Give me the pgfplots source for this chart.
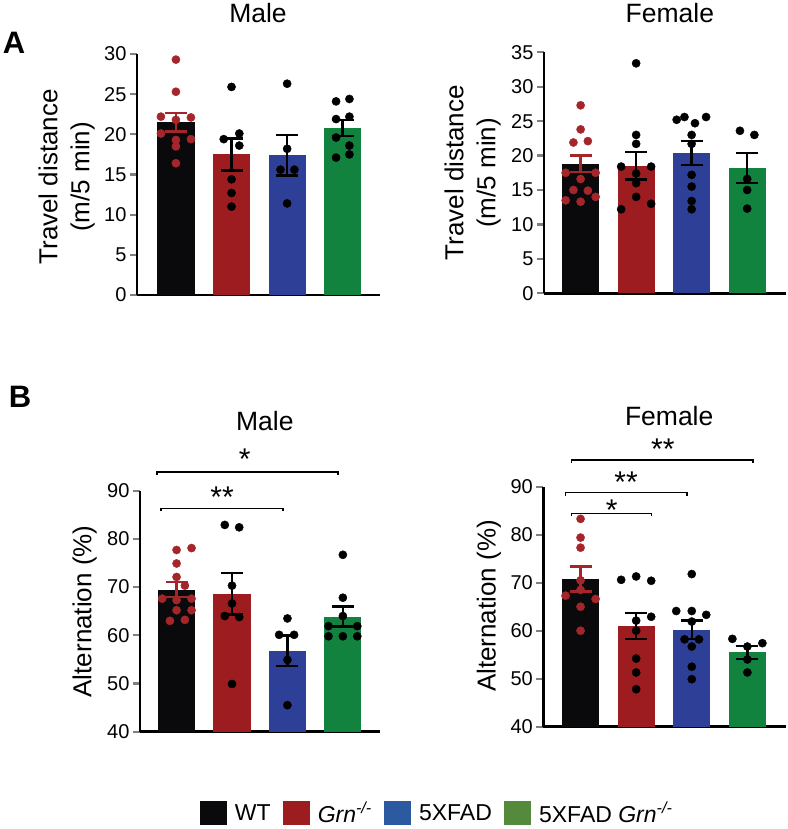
\documentclass[border=0pt]{standalone}
\usepackage{fontspec}
\setmainfont{Liberation Sans}
\usepackage{pgfplots}
\pgfplotsset{compat=1.18}

\definecolor{wtc}{HTML}{0A0A0C}
\definecolor{grnc}{HTML}{9C1C20}
\definecolor{fadc}{HTML}{2D3F97}
\definecolor{fgc}{HTML}{12833F}
\definecolor{dotred}{HTML}{A5262A}
\definecolor{legblue}{HTML}{2C5AA0}
\definecolor{leggreen}{HTML}{558A3C}

\pgfplotsset{
  panel/.style={
    scale only axis, anchor=south west,
    axis x line*=bottom, axis y line*=left,
    axis line style={line width=2.5pt},
    xtick=\empty,
    tick align=outside, major tick length=7pt,
    ytick style={line width=2.2pt},
    /pgf/number format/assume math mode=true,
    yticklabel style={font=\fontsize{20}{22}\selectfont},
    every axis title shift=0pt,
    title style={font=\fontsize{26.5}{30}\selectfont, anchor=center},
    ylabel style={font=\fontsize{26}{32}\selectfont, align=center, anchor=center},
    clip=false,
  },
  mbar/.style 2 args={ybar, bar width=0.67, bar shift=0pt, draw=none, fill=#1,
    /pgfplots/error bars/y dir=both, /pgfplots/error bars/y explicit,
    /pgfplots/error bars/error bar style={draw=#2, line width=2.5pt},
    /pgfplots/error bars/error mark options={rotate=90, draw=#2, line width=2.5pt, mark size=11pt}},
  dots/.style={only marks, mark=*, mark size=4.1pt, color=#1},
  legsq/.style={legend image code/.code={%
    \fill[#1] (0pt,-11.5pt) rectangle (26pt,11.5pt);
    \path[draw=none, fill=none] (0pt,-11.5pt) rectangle (33pt,11.5pt);}},
}
\tikzset{
  brk/.style={line width=1.5pt},
  star/.style={font=\fontsize{30}{30}\selectfont, anchor=base, inner sep=0pt},
}

\begin{document}
\begin{tikzpicture}
\path[use as bounding box] (0pt,0pt) rectangle (787pt,829pt);

\node[font=\fontsize{31}{31}\selectfont\bfseries] at (14pt,786.5pt) {A};
\node[font=\fontsize{31}{31}\selectfont\bfseries] at (20pt,432pt) {B};

% ---------- A, male ----------
\begin{axis}[panel, at={(137pt,534pt)}, width=243pt, height=241pt,
  xmin=-0.70, xmax=3.67, ymin=0, ymax=30, ytick={0,5,...,30},
  title=Male, title style={at={(axis description cs:0.498,1.172)}},
  ylabel={Travel distance\\(m/5 min)},
  ylabel style={at={(axis description cs:-0.29,0.49)}}]
\addplot[mbar={wtc}{dotred}] coordinates {(0,21.5) +- (0,1.15)};
\addplot[mbar={grnc}{black}] coordinates {(1,17.5) +- (0,2.0)};
\addplot[mbar={fadc}{black}] coordinates {(2,17.4) +- (0,2.5)};
\addplot[mbar={fgc}{black}] coordinates {(3,20.8) +- (0,1.0)};
\addplot[dots=dotred] coordinates {
  (0,29.3) (0,25.3) (-0.27,22.2) (0.27,22.1) (0,21.8)
  (-0.27,20.1) (0,19.3) (0.27,19.4) (0,18.5) (0,16.4)};
\addplot[dots=black] coordinates {
  (1,25.9) (1.14,20.1) (0.86,19.4) (1.14,18.6) (1,14.4) (1,12.7) (1,11.0)};
\addplot[dots=black] coordinates {
  (2,26.3) (2,18.2) (1.88,15.6) (2.13,15.6) (2,11.4)};
\addplot[dots=black] coordinates {
  (2.88,24.1) (3.12,24.4) (2.88,21.9) (3.12,22.2) (2.88,19.6) (3.12,18.6)
  (2.88,17.1) (3.12,17.5)};
\end{axis}

% ---------- A, female ----------
\begin{axis}[panel, at={(544pt,535.7pt)}, width=242pt, height=241pt,
  xmin=-0.66, xmax=3.70, ymin=0, ymax=35, ytick={0,5,...,35},
  title=Female, title style={at={(axis description cs:0.52,1.163)}},
  ylabel={Travel distance\\(m/5 min)},
  ylabel style={at={(axis description cs:-0.295,0.5)}}]
\addplot[mbar={wtc}{dotred}] coordinates {(0,18.8) +- (0,1.2)};
\addplot[mbar={grnc}{black}] coordinates {(1,18.5) +- (0,2.0)};
\addplot[mbar={fadc}{black}] coordinates {(2,20.4) +- (0,1.75)};
\addplot[mbar={fgc}{black}] coordinates {(3,18.2) +- (0,2.2)};
\addplot[dots=dotred] coordinates {
  (0,27.3) (0,23.8) (-0.13,21.9) (0.13,22.1) (-0.27,17.5) (0.27,17.5)
  (0,16.6) (-0.13,15.0) (0.13,14.9) (0.27,14.0) (-0.27,13.5) (0,13.3)};
\addplot[dots=black] coordinates {
  (1,33.4) (1,23.0) (1,21.7) (0.73,18.4) (1.27,18.4) (1,17.4) (1,16.0)
  (1,14.0) (0.73,12.2) (1.27,13.0)};
\addplot[dots=black] coordinates {
  (1.73,25.2) (1.87,25.6) (2.06,24.7) (2.26,25.6) (2,23.0) (2,21.7)
  (2,17.2) (2,15.5) (2,13.4) (2,12.2)};
\addplot[dots=black] coordinates {
  (2.87,23.6) (3.13,23.0) (3,16.6) (3,15.0) (3,12.3)};
\end{axis}

% ---------- B, male ----------
\begin{axis}[panel, at={(140pt,97.3pt)}, width=240pt, height=241pt,
  xmin=-0.66, xmax=3.67, ymin=40, ymax=90, ytick={40,50,...,90},
  title=Male, title style={at={(axis description cs:0.52,1.289)}},
  ylabel={Alternation (\%)},
  ylabel style={at={(axis description cs:-0.231,0.499)}},
  legend columns=4,
  legend style={at={(axis description cs:1.2375,-0.337)}, anchor=center,
    draw=none, fill=none, font=\fontsize{23}{26}\selectfont,
    /tikz/every even column/.append style={column sep=10pt}}]
\addlegendimage{legsq=wtc}
\addlegendimage{legsq=grnc}
\addlegendimage{legsq=legblue}
\addlegendimage{legsq=leggreen}
\addplot[mbar={wtc}{dotred}, forget plot] coordinates {(0,69.5) +- (0,1.6)};
\addplot[mbar={grnc}{black}, forget plot] coordinates {(1,68.6) +- (0,4.3)};
\addplot[mbar={fadc}{black}, forget plot] coordinates {(2,56.8) +- (0,3.15)};
\addplot[mbar={fgc}{black}, forget plot] coordinates {(3,63.9) +- (0,2.05)};
\addplot[dots=dotred, forget plot] coordinates {
  (0,77.7) (0.27,78.1) (0,74.9) (0,72.1) (0.15,70.3) (-0.26,67.6)
  (0.27,67.6) (0,67.3) (0,65.2) (0.27,65.2) (-0.12,63.0) (0.15,63.2)};
\addplot[dots=black, forget plot] coordinates {
  (0.87,82.9) (1.13,82.4) (1,70.3) (1,66.6) (0.87,64.0) (1.13,63.8) (1,49.9)};
\addplot[dots=black, forget plot] coordinates {
  (2,63.5) (1.85,60.1) (2.12,60.1) (2,54.9) (2,45.5)};
\addplot[dots=black, forget plot] coordinates {
  (3,76.7) (3,67.8) (3,64.0) (2.74,61.9) (3.26,61.9) (2.74,59.8) (3,59.8) (3.26,59.8)};
\legend{WT, \textit{Grn\textsuperscript{-/-}}, 5XFAD, 5XFAD \textit{Grn\textsuperscript{-/-}}}
\draw[brk] (axis cs:-0.35,93.3) -- (axis cs:-0.35,93.9) -- (axis cs:2.91,93.9) -- (axis cs:2.91,93.3);
\node[star] at (axis cs:1.23,94.3) {*};
\draw[brk] (axis cs:-0.28,85.7) -- (axis cs:-0.28,86.3) -- (axis cs:1.92,86.3) -- (axis cs:1.92,85.7);
\node[star] at (axis cs:0.82,86.6) {**};
\end{axis}

% ---------- B, female ----------
\begin{axis}[panel, at={(543.3pt,102.3pt)}, width=243pt, height=240pt,
  xmin=-0.67, xmax=3.70, ymin=40, ymax=90, ytick={40,50,...,90},
  title=Female, title style={at={(axis description cs:0.518,1.295)}},
  ylabel={Alternation (\%)},
  ylabel style={at={(axis description cs:-0.224,0.503)}}]
\addplot[mbar={wtc}{dotred}] coordinates {(0,70.8) +- (0,2.6)};
\addplot[mbar={grnc}{black}] coordinates {(1,61.0) +- (0,2.7)};
\addplot[mbar={fadc}{black}] coordinates {(2,60.2) +- (0,1.9)};
\addplot[mbar={fgc}{black}] coordinates {(3,55.5) +- (0,1.35)};
\addplot[dots=dotred] coordinates {
  (0,83.3) (0,79.4) (0,77.3) (0,70.5) (0,68.5) (-0.27,67.3) (0.27,66.6)
  (0,65.0) (0,60.0)};
\addplot[dots=black] coordinates {
  (0.73,70.6) (1,71.3) (1.27,70.4) (1.27,62.9) (1,62.1) (1,60.0) (1,54.2)
  (1,51.3) (1,47.8)};
\addplot[dots=black] coordinates {
  (2,71.8) (1.72,64.1) (2,64.1) (2.26,63.3) (2,61.9) (1.87,58.2) (2.13,58.2)
  (2,56.7) (2,52.5) (2,49.9)};
\addplot[dots=black] coordinates {
  (2.73,58.3) (3,56.7) (3.27,57.4) (3,54.0) (3,51.3)};
\draw[brk] (axis cs:-0.16,94.95) -- (axis cs:-0.16,95.56) -- (axis cs:3.1,95.56) -- (axis cs:3.1,94.95);
\node[star] at (axis cs:1.48,95.7) {**};
\draw[brk] (axis cs:-0.27,88.15) -- (axis cs:-0.27,88.75) -- (axis cs:1.91,88.75) -- (axis cs:1.91,88.15);
\node[star] at (axis cs:0.82,88.85) {**};
\draw[brk] (axis cs:-0.16,83.85) -- (axis cs:-0.16,84.46) -- (axis cs:1.28,84.46) -- (axis cs:1.28,83.85);
\node[star] at (axis cs:0.56,82.94) {*};
\end{axis}
\end{tikzpicture}
\end{document}
